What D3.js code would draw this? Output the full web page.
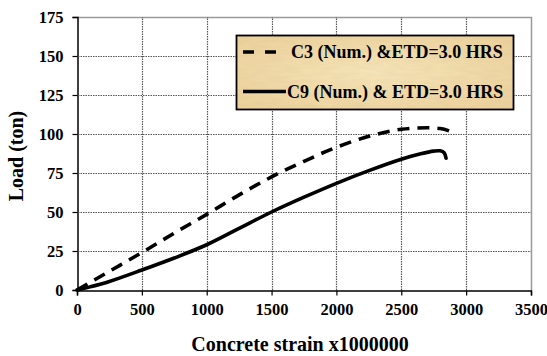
<!DOCTYPE html>
<html>
<head>
<meta charset="utf-8">
<script src="https://cdn.jsdelivr.net/npm/d3@7"></script>
<style>
  html, body { margin: 0; padding: 0; background: #fff; }
  svg { display: block; }
  text { font-family: "Liberation Serif", "Times New Roman", serif; font-weight: bold; fill: #000; }
</style>
</head>
<body>
<div id="chart"></div>
<script>
// Load versus concrete strain for two numerically modelled columns (ETD = 3.0 hrs)
const xTicks = [0, 500, 1000, 1500, 2000, 2500, 3000, 3500];
const yTicks = [0, 25, 50, 75, 100, 125, 150, 175];

const c3Strain = [0, 250, 500, 750, 1000, 1250, 1500, 1750, 2000, 2250, 2500, 2700, 2800, 2900];
const c3Load   = [0, 12, 24, 36.5, 48.5, 61, 72.5, 82.5, 91.5, 98.5, 103, 104, 103.5, 101];

const c9Strain = [0, 100, 250, 500, 750, 1000, 1250, 1500, 1750, 2000, 2250, 2500, 2650, 2750, 2800, 2830, 2845];
const c9Load   = [0, 2, 5.5, 12.8, 20.5, 29, 39.5, 50, 59.5, 68.4, 76.5, 83.8, 87.3, 89, 89.2, 88, 84.5];

const seriesNames = ["C3 (Num.) &ETD=3.0 HRS", "C9 (Num.) & ETD=3.0 HRS"];

const W = 547, H = 356;
const margin = { left: 77, top: 17, right: 16, bottom: 66 };

const svg = d3.select("#chart").append("svg")
  .attr("width", W).attr("height", H);

const defs = svg.append("defs");
// parchment fill for the legend box
const grad = defs.append("radialGradient").attr("id", "paper")
  .attr("cx", "50%").attr("cy", "50%").attr("r", "70%");
grad.append("stop").attr("offset", "0%").attr("stop-color", "#f8e7bb");
grad.append("stop").attr("offset", "100%").attr("stop-color", "#eed29c");
const flt = defs.append("filter").attr("id", "grain")
  .attr("x", 0).attr("y", 0).attr("width", "100%").attr("height", "100%");
flt.append("feTurbulence").attr("type", "fractalNoise")
  .attr("baseFrequency", "0.06 0.3").attr("numOctaves", 2).attr("seed", 4).attr("result", "n");
flt.append("feColorMatrix").attr("in", "n").attr("type", "matrix")
  .attr("values", "0 0 0 0 0.55  0 0 0 0 0.42  0 0 0 0 0.2  0 0 0 0.22 0").attr("result", "tint");
flt.append("feComposite").attr("in", "tint").attr("in2", "SourceGraphic").attr("operator", "in").attr("result", "t2");
flt.append("feMerge").selectAll("feMergeNode")
  .data(["SourceGraphic", "t2"]).enter().append("feMergeNode").attr("in", d => d);

const x = d3.scaleLinear().domain([0, 3500]).range([margin.left, W - margin.right]);
const y = d3.scaleLinear().domain([0, 175]).range([H - margin.bottom, margin.top]);

// plot frame (top and right edges)
svg.append("path")
  .attr("d", `M${x(0)},${y(175) + 0.5}H${x(3500) + 0.5}V${y(0)}`)
  .attr("fill", "none").attr("stroke", "#9a9a9a").attr("stroke-width", 1.5);

// axes
const xAxis = svg.append("g").attr("transform", `translate(0,${y(0) + 0.5})`)
  .call(d3.axisBottom(x).tickValues(xTicks).tickSize(5).tickPadding(8).tickFormat(d3.format("d")));
const yAxis = svg.append("g").attr("transform", `translate(${x(0) + 0.5},0)`)
  .call(d3.axisLeft(y).tickValues(yTicks).tickSize(5).tickPadding(9).tickFormat(d3.format("d")));
[xAxis, yAxis].forEach(a => {
  a.select(".domain").attr("stroke", "#000").attr("stroke-width", 1.5);
  a.selectAll(".tick line").attr("stroke", "#000").attr("stroke-width", 1.2);
  a.selectAll(".tick text").style("font-family", "'Liberation Serif', serif")
    .style("font-weight", "bold").style("font-size", "16.5px").attr("fill", "#000");
});

// dotted grid: one horizontal line per load tick, one vertical line per strain tick
const gridH = yTicks.slice(1, -1);
const gridV = xTicks.slice(1, -1);
const gridG = svg.append("g");
gridH.forEach(v => {
  gridG.append("line")
    .attr("x1", x(0) + 1).attr("x2", x(3500))
    .attr("y1", Math.round(y(v)) + 0.5).attr("y2", Math.round(y(v)) + 0.5)
    .style("stroke", "#555").style("stroke-width", "1.2").style("stroke-dasharray", "1.5 1");
});
gridV.forEach(v => {
  gridG.append("line")
    .attr("x1", Math.round(x(v)) + 0.5).attr("x2", Math.round(x(v)) + 0.5)
    .attr("y1", y(0)).attr("y2", y(175))
    .style("stroke", "#555").style("stroke-width", "1.2").style("stroke-dasharray", "1.5 1");
});

// curves
const line = d3.line().x(d => x(d[0])).y(d => y(d[1])).curve(d3.curveMonotoneX);
const c3 = c3Strain.map((s, i) => [s, c3Load[i]]);
const c9 = c9Strain.map((s, i) => [s, c9Load[i]]);
const lineC9 = d3.line().x(d => x(d[0])).y(d => y(d[1])).curve(d3.curveCatmullRom.alpha(0.5));

svg.append("path").datum(c3).attr("d", line)
  .attr("fill", "none").attr("stroke", "#000").attr("stroke-width", 3.6)
  .attr("stroke-dasharray", "12,8");
svg.append("path").datum(c9).attr("d", lineC9)
  .attr("fill", "none").attr("stroke", "#000").attr("stroke-width", 3.6)
  .attr("stroke-linecap", "round");

// axis titles
svg.append("text").attr("x", 300).attr("y", 351).attr("text-anchor", "middle")
  .style("font-size", "20px").text("Concrete strain x1000000");
svg.append("text").attr("transform", "translate(23,156) rotate(-90)").attr("text-anchor", "middle")
  .style("font-size", "20px").text("Load (ton)");

// legend
const lg = svg.append("g");
lg.append("rect").attr("x", 236.5).attr("y", 35.5).attr("width", 277).attr("height", 74)
  .attr("fill", "url(#paper)").attr("filter", "url(#grain)");
lg.append("rect").attr("x", 236.5).attr("y", 35.5).attr("width", 277).attr("height", 74)
  .attr("fill", "none").attr("stroke", "#000").attr("stroke-width", 1.8);
const items = [
  { name: seriesNames[0], dash: "11,11", x2: 281, tx: 291, yy: 52 },
  { name: seriesNames[1], dash: null, x2: 286, tx: 287, yy: 91.5 }
];
items.forEach(it => {
  lg.append("line").attr("x1", 243).attr("x2", it.x2).attr("y1", it.yy).attr("y2", it.yy)
    .attr("stroke", "#000").attr("stroke-width", 3.6)
    .attr("stroke-dasharray", it.dash);
  lg.append("text").attr("x", it.tx).attr("y", it.yy + 6)
    .style("font-size", "18px").text(it.name);
});
</script>
</body>
</html>
